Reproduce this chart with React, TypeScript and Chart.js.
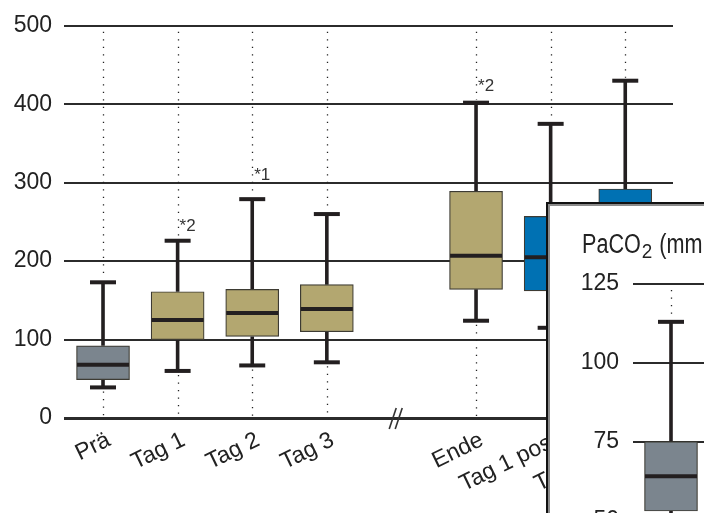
import React, { useEffect, useRef } from "react";
import { Chart, registerables } from "chart.js";
Chart.register(...registerables);

// ---- main chart data ----
const categories = ["Prä", "Tag 1", "Tag 2", "Tag 3", "Ende", "Tag 1 post", "Tag 2 post"];
const positions = [0, 1, 2, 3, 5, 6, 7];
const whiskerLow = [39, 60, 67, 71, 124, 115, 122];
const q1 = [49, 100, 104, 110, 164, 162, 172];
const median = [68, 125, 134, 139, 207, 205, 224];
const q3 = [92, 161, 164, 170, 289, 257, 292];
const whiskerHigh = [173, 226, 279, 260, 402, 375, 430];
const boxColors = ["#7b858e", "#b3a770", "#b3a770", "#b3a770", "#b3a770", "#0071b3", "#0071b3"];
const annotationIndex = [1, 2, 4];
const annotationText = ["*2", "*1", "*2"];
const annotationValue = [245, 309, 423];
const breakPosition = 3.93;

// ---- inset data ----
const insetTitle = "PaCO";
const insetTitleSub = "2";
const insetTitleTail = " (mmHg)";
const insetPositions = [0];
const insetWhiskerLow = [40];
const insetQ1 = [53];
const insetMedian = [64];
const insetQ3 = [75];
const insetWhiskerHigh = [113];
const insetColors = ["#7b858e"];

const FONT = "'Liberation Sans', Arial, sans-serif";
const INK = "#231f20";

type BoxData = {
  pos: number[]; lo: number[]; q1: number[]; med: number[]; q3: number[]; hi: number[]; topValue: number; bottomValue: number;
};

function drawDotted(chart: any, d: BoxData) {
  const { ctx } = chart;
  const xs = chart.scales.x, ys = chart.scales.y;
  ctx.save();
  ctx.strokeStyle = "#222";
  ctx.lineWidth = 1.3;
  ctx.setLineDash([1.3, 6.2]);
  d.pos.forEach((p, i) => {
    const x = Math.round(xs.getPixelForValue(p)) + 0.5;
    ctx.beginPath();
    ctx.moveTo(x, ys.getPixelForValue(d.topValue) + 6);
    ctx.lineTo(x, ys.getPixelForValue(d.hi[i]) - 3);
    ctx.stroke();
    ctx.beginPath();
    ctx.moveTo(x, ys.getPixelForValue(d.lo[i]) + 4);
    ctx.lineTo(x, ys.getPixelForValue(d.bottomValue) - 2);
    ctx.stroke();
  });
  ctx.restore();
}

function drawWhiskers(chart: any, d: BoxData) {
  const { ctx } = chart;
  const xs = chart.scales.x, ys = chart.scales.y;
  ctx.save();
  ctx.strokeStyle = INK;
  ctx.setLineDash([]);
  d.pos.forEach((p, i) => {
    const x = xs.getPixelForValue(p);
    ctx.lineWidth = 3.6;
    ctx.beginPath();
    ctx.moveTo(x, ys.getPixelForValue(d.hi[i]));
    ctx.lineTo(x, ys.getPixelForValue(d.q3[i]));
    ctx.moveTo(x, ys.getPixelForValue(d.q1[i]));
    ctx.lineTo(x, ys.getPixelForValue(d.lo[i]));
    ctx.stroke();
    ctx.lineWidth = 4;
    [d.hi[i], d.lo[i]].forEach((v) => {
      const y = ys.getPixelForValue(v);
      ctx.beginPath();
      ctx.moveTo(x - 13, y);
      ctx.lineTo(x + 13, y);
      ctx.stroke();
    });
  });
  ctx.restore();
}

function drawMedians(chart: any, d: BoxData) {
  const { ctx } = chart;
  const xs = chart.scales.x, ys = chart.scales.y;
  ctx.save();
  ctx.strokeStyle = INK;
  ctx.lineWidth = 4;
  d.pos.forEach((p, i) => {
    const x = xs.getPixelForValue(p);
    const y = ys.getPixelForValue(d.med[i]);
    ctx.beginPath();
    ctx.moveTo(x - 26, y);
    ctx.lineTo(x + 26, y);
    ctx.stroke();
  });
  ctx.restore();
}

const mainData: BoxData = { pos: positions, lo: whiskerLow, q1, med: median, q3, hi: whiskerHigh, topValue: 500, bottomValue: 0 };
const insetData: BoxData = { pos: insetPositions, lo: insetWhiskerLow, q1: insetQ1, med: insetMedian, q3: insetQ3, hi: insetWhiskerHigh, topValue: 125, bottomValue: 50 };

const boxPlugin = (d: BoxData) => ({
  id: "boxExtras",
  beforeDatasetsDraw(chart: any) {
    drawDotted(chart, d);
    drawWhiskers(chart, d);
  },
  afterDatasetsDraw(chart: any) {
    drawMedians(chart, d);
  },
});

const mainDecor = {
  id: "mainDecor",
  afterDraw(chart: any) {
    const { ctx } = chart;
    const xs = chart.scales.x, ys = chart.scales.y;
    const y0 = ys.getPixelForValue(0);
    ctx.save();
    // category labels
    ctx.fillStyle = "#222";
    ctx.font = `23px ${FONT}`;
    ctx.textAlign = "right";
    ctx.textBaseline = "middle";
    categories.forEach((c, i) => {
      const x = xs.getPixelForValue(positions[i]);
      ctx.save();
      ctx.translate(x + 6, y0 + 21);
      ctx.rotate((-26 * Math.PI) / 180);
      ctx.fillText(c, 0, 0);
      ctx.restore();
    });
    // annotations
    ctx.fillStyle = "#333";
    ctx.font = `17px ${FONT}`;
    ctx.textAlign = "left";
    annotationIndex.forEach((ci, k) => {
      const x = xs.getPixelForValue(positions[ci]);
      ctx.fillText(annotationText[k], x + 2, ys.getPixelForValue(annotationValue[k]));
    });
    // axis break
    const bx = xs.getPixelForValue(breakPosition);
    ctx.strokeStyle = "#333";
    ctx.lineWidth = 1.6;
    [-3, 3].forEach((o) => {
      ctx.beginPath();
      ctx.moveTo(bx + o - 4, y0 + 11);
      ctx.lineTo(bx + o + 3, y0 - 10);
      ctx.stroke();
    });
    ctx.restore();
  },
};

const insetDecor = {
  id: "insetDecor",
  afterDraw(chart: any) {
    const { ctx } = chart;
    ctx.save();
    ctx.fillStyle = "#222";
    ctx.textBaseline = "alphabetic";
    ctx.textAlign = "left";
    const bx = 34, by = 48.5;
    const sx = 0.8;
    ctx.font = `27px ${FONT}`;
    ctx.save();
    ctx.translate(bx, by);
    ctx.scale(sx, 1);
    ctx.fillText(insetTitle, 0, 0);
    const w1 = ctx.measureText(insetTitle).width * sx;
    ctx.restore();
    ctx.font = `21px ${FONT}`;
    ctx.save();
    ctx.translate(bx + w1 + 1, by + 5);
    ctx.scale(0.9, 1);
    ctx.fillText(insetTitleSub, 0, 0);
    const w2 = ctx.measureText(insetTitleSub).width * 0.9;
    ctx.restore();
    ctx.font = `27px ${FONT}`;
    ctx.save();
    ctx.translate(bx + w1 + 2 + w2, by);
    ctx.scale(sx, 1);
    ctx.fillText(insetTitleTail, 0, 0);
    ctx.restore();
    ctx.restore();
  },
};

function yScale(min: number, max: number, step: number, width: number, padding: number) {
  return {
    min, max,
    ticks: { stepSize: step, color: "#222", font: { family: FONT, size: 23 }, padding },
    grid: {
      drawTicks: false,
      color: "#2b2b2b",
      lineWidth: (c: any) => (c.tick && c.tick.value === 0 ? 3 : 2),
    },
    border: { display: false },
    afterFit: (s: any) => { s.width = width; },
  };
}

export default function App() {
  const mainRef = useRef<HTMLCanvasElement>(null);
  const insetRef = useRef<HTMLCanvasElement>(null);

  useEffect(() => {
    const main = new Chart(mainRef.current!, {
      type: "bar",
      data: {
        datasets: [{
          data: positions.map((p, i) => ({ x: p, y: [q1[i], q3[i]] })) as any,
          backgroundColor: boxColors,
          borderColor: "#3d3b33",
          borderWidth: 1.2,
          borderSkipped: false,
          barThickness: 53,
        }],
      },
      options: {
        responsive: false,
        animation: false,
        events: [],
        layout: { padding: { left: 0, right: 31, top: 22, bottom: 95 } },
        plugins: { legend: { display: false }, tooltip: { enabled: false } },
        scales: {
          x: { type: "linear", min: -0.523, max: 7.64, offset: false, display: false },
          y: yScale(0, 500, 100, 64, 12) as any,
        },
      },
      plugins: [boxPlugin(mainData), mainDecor],
    });

    const inset = new Chart(insetRef.current!, {
      type: "bar",
      data: {
        datasets: [{
          data: insetPositions.map((p, i) => ({ x: p, y: [insetQ1[i], insetQ3[i]] })) as any,
          backgroundColor: insetColors,
          borderColor: "#3d3b33",
          borderWidth: 1.2,
          borderSkipped: false,
          barThickness: 53,
        }],
      },
      options: {
        responsive: false,
        animation: false,
        events: [],
        layout: { padding: { left: 0, right: 0, top: 80, bottom: 53.5 } },
        plugins: { legend: { display: false }, tooltip: { enabled: false } },
        scales: {
          x: { type: "linear", min: -0.5, max: 1.013, offset: false, display: false },
          y: yScale(50, 125, 25, 85, 14) as any,
        },
      },
      plugins: [boxPlugin(insetData), insetDecor],
    });

    return () => { main.destroy(); inset.destroy(); };
  }, []);

  return (
    <div style={{ position: "absolute", left: 0, top: 0, width: 704, height: 513, overflow: "hidden", background: "#fff" }}>
      <canvas ref={mainRef} width={704} height={513} style={{ position: "absolute", left: 0, top: 0, width: 704, height: 513 }} />
      <div style={{
        position: "absolute", left: 546, top: 202, width: 158, height: 311, boxSizing: "border-box",
        borderLeft: "2px solid #111", borderTop: "2px solid #111", background: "#fff",
        boxShadow: "inset 2px 2px 0 #8a8a8a", overflow: "hidden",
      }}>
        <canvas ref={insetRef} width={200} height={370} style={{ position: "absolute", left: 0, top: 0, width: 200, height: 370 }} />
      </div>
    </div>
  );
}
